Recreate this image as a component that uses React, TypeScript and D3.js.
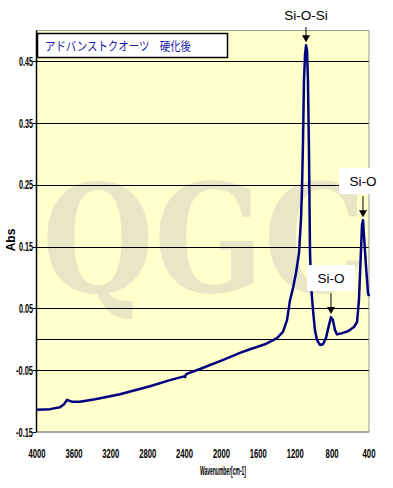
import React from "react";
import * as d3 from "d3";

const wavenumbers = [4000, 3859, 3751, 3707, 3675, 3620, 3534, 3371, 3100, 2775, 2558, 2405, 2395, 2385, 2363, 2233, 1994, 1799, 1690, 1528, 1398, 1333, 1289, 1257, 1224, 1192, 1159, 1138, 1127, 1116, 1105, 1094, 1083, 1072, 1062, 1051, 1040, 1029, 1007, 986, 964, 932, 899, 867, 834, 812, 791, 769, 747, 693, 628, 563, 530, 509, 487, 476, 465, 455, 433, 411, 400];
const absorbance = [-0.114, -0.113, -0.11, -0.105, -0.098, -0.101, -0.101, -0.097, -0.089, -0.076, -0.066, -0.06, -0.061, -0.057, -0.055, -0.048, -0.034, -0.022, -0.016, -0.008, 0.002, 0.012, 0.031, 0.063, 0.083, 0.107, 0.14, 0.193, 0.241, 0.317, 0.419, 0.46, 0.476, 0.468, 0.419, 0.306, 0.144, 0.088, 0.047, 0.015, -0.001, -0.009, -0.008, 0.002, 0.023, 0.036, 0.031, 0.015, 0.008, 0.01, 0.013, 0.02, 0.028, 0.063, 0.144, 0.185, 0.193, 0.169, 0.12, 0.075, 0.07];

const xTicks = [4000, 3600, 3200, 2800, 2400, 2000, 1600, 1200, 800, 400];
const yTicks = [0.45, 0.35, 0.25, 0.15, 0.05, -0.05, -0.15];
const yTickLabels = ["0.45", "0.35", "0.25", "0.15", "0.05", "-0.05", "-0.15"];
const gridValues = [0.45, 0.35, 0.25, 0.15, 0.05, 0, -0.05];

const annotations = [
  { label: "Si-O-Si", wn: 1083, v: 0.476, boxed: false },
  { label: "Si-O", wn: 465, v: 0.193, boxed: true },
  { label: "Si-O", wn: 812, v: 0.036, boxed: true },
];

const titleText = "アドバンストクオーツ　硬化後";

export default function App() {
  const W = 393, H = 488;
  const left = 36.5, right = 369, top = 30.5, bottom = 432;
  const x = d3.scaleLinear().domain([4000, 400]).range([37, 369]);
  const y = d3.scaleLinear().domain([-0.15, 0.5]).range([bottom, top]);
  const line = d3.line<number>()
    .x((_, i) => x(wavenumbers[i]))
    .y((d) => y(d))
    .curve(d3.curveLinear);
  const narrow = "'Liberation Sans Narrow', 'Liberation Sans', Arial, sans-serif";

  return (
    <svg width={W} height={H} style={{ position: "absolute", left: 0, top: 0, background: "#fff" }}>
      <rect x={left} y={top} width={right - left} height={bottom - top} fill="#FFFFCC" />
      <text x={42} y={292} fontFamily="'DejaVu Serif', 'Liberation Serif', serif" fontWeight="bold" fontSize={150} fill="#E8E6C4" textLength={324} lengthAdjust="spacingAndGlyphs">QGC</text>
      {gridValues.map((g) => (
        <line key={g} x1={left} x2={right} y1={Math.round(y(g)) + 0.5} y2={Math.round(y(g)) + 0.5} stroke="#000" strokeWidth={1} />
      ))}
      <line x1={left} x2={right} y1={top} y2={top} stroke="#999" />
      <line x1={right} x2={right} y1={top} y2={bottom} stroke="#999" />
      <line x1={left} x2={right} y1={bottom} y2={bottom} stroke="#888" strokeWidth={1.5} />
      <line x1={left} x2={left} y1={top} y2={bottom} stroke="#000" strokeWidth={1.5} />
      {yTicks.map((t, i) => (
        <g key={t}>
          <line x1={left - 4} x2={left} y1={Math.round(y(t)) + 0.5} y2={Math.round(y(t)) + 0.5} stroke="#000" />
          <text x={33} y={y(t) + 4.5} textAnchor="end" fontFamily={narrow} fontWeight="bold" fontSize={12} textLength={yTickLabels[i].length > 4 ? 17 : 14} lengthAdjust="spacingAndGlyphs">{yTickLabels[i]}</text>
        </g>
      ))}
      {xTicks.map((t) => (
        <text key={t} x={x(t)} y={458} textAnchor="middle" fontFamily={narrow} fontWeight="bold" fontSize={12} textLength={t >= 1000 ? 17 : 13} lengthAdjust="spacingAndGlyphs">{t}</text>
      ))}
      <text x={223} y={475} textAnchor="middle" fontFamily={narrow} fontWeight="bold" fontSize={12} textLength={46} lengthAdjust="spacingAndGlyphs">Wavenumber[cm-1]</text>
      <text transform="translate(15,240) rotate(-90)" textAnchor="middle" fontFamily={narrow} fontWeight="bold" fontSize={12}>Abs</text>
      <path d={line(absorbance) || ""} fill="none" stroke="#000080" strokeWidth={2.5} strokeLinejoin="round" />
      <rect x={37.5} y={33.5} width={190} height={24} fill="#fff" stroke="#000" strokeWidth={1.5} />
      <text x={45} y={51} fontFamily="'Noto Sans CJK JP', sans-serif" fontSize={12.5} fill="#1a1aa8" textLength={146} lengthAdjust="spacingAndGlyphs">{titleText}</text>
      {annotations.map((a, i) => {
        const px = x(a.wn);
        const py = y(a.v);
        const ly = py - 36;
        return (
          <g key={i}>
            {a.boxed && <rect x={px - 24} y={ly - 16} width={48} height={26} fill="#fff" />}
            <text x={px} y={a.boxed ? ly + 2 : 20} textAnchor="middle" fontFamily="'Liberation Sans', Arial, sans-serif" fontSize={13.5} fill="#000">{a.label}</text>
            <line x1={px} x2={px} y1={a.boxed ? ly + 12 : 27} y2={py - 6} stroke="#000" strokeWidth={1} />
            <path d={`M${px - 4},${py - 10} L${px + 4},${py - 10} L${px},${py - 3} Z`} fill="#000" />
          </g>
        );
      })}
    </svg>
  );
}
